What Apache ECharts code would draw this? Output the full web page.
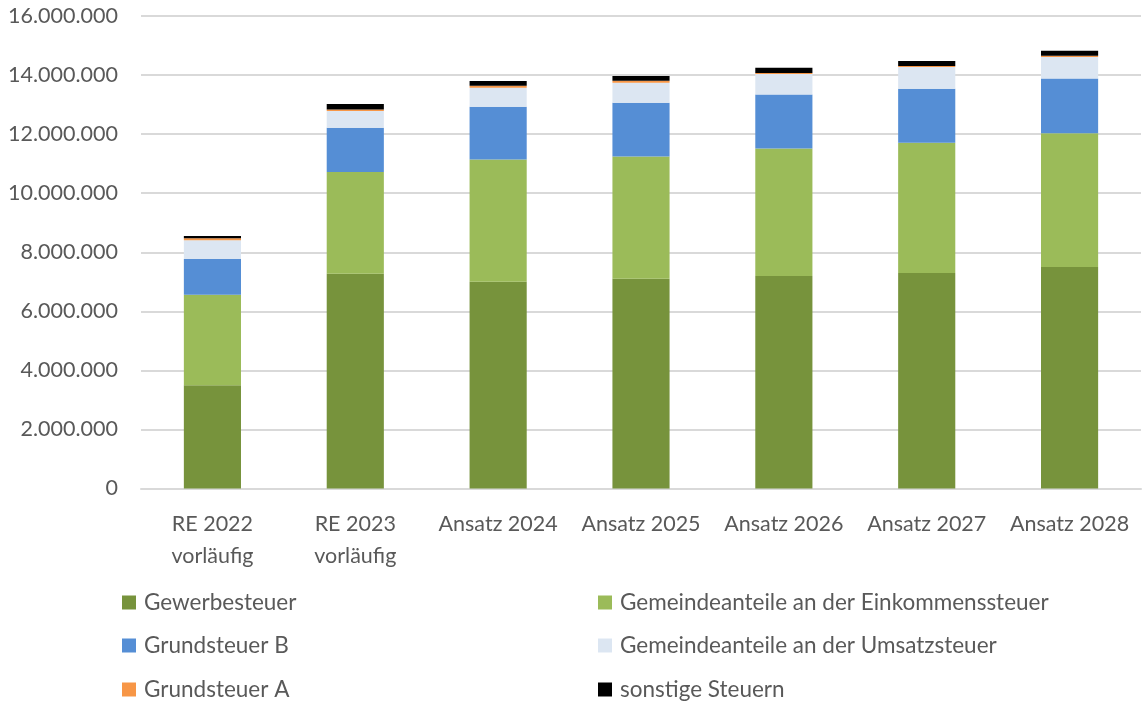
<!DOCTYPE html>
<html>
<head>
<meta charset="utf-8">
<script src="https://cdn.jsdelivr.net/npm/echarts@6/dist/echarts.min.js"></script>
<style>
  html, body { margin: 0; padding: 0; background: #fff; }
  #chart { width: 1144px; height: 702px; }
</style>
</head>
<body>
<div id="chart"></div>
<script>
// Kategorien (x-Achse)
const categories = ['RE 2022\nvorläufig', 'RE 2023\nvorläufig', 'Ansatz 2024', 'Ansatz 2025', 'Ansatz 2026', 'Ansatz 2027', 'Ansatz 2028'];

// Steuerarten, Werte in Euro
const gewerbesteuer = [3500000, 7270000, 7000000, 7100000, 7200000, 7300000, 7500000];
const einkommensteuer = [3060000, 3450000, 4140000, 4140000, 4310000, 4410000, 4530000];
const grundsteuerB = [1210000, 1500000, 1790000, 1820000, 1830000, 1830000, 1850000];
const umsatzsteuer = [640000, 560000, 640000, 680000, 700000, 730000, 730000];
const grundsteuerA = [60000, 50000, 70000, 70000, 30000, 40000, 40000];
const sonstige = [80000, 190000, 160000, 160000, 180000, 170000, 170000];

const yTicks = { min: 0, max: 16000000, interval: 2000000 };

const FONT = 'Lato, "Open Sans", sans-serif';
const TEXT = '#595959';
const FS = 21.5;

// Tausenderpunkte wie im Original
function fmt(v) {
  return String(v).replace(/\B(?=(\d{3})+(?!\d))/g, '.');
}

const seriesDefs = [
  { name: 'Gewerbesteuer', data: gewerbesteuer, color: '#77933C' },
  { name: 'Gemeindeanteile an der Einkommenssteuer', data: einkommensteuer, color: '#9BBB59' },
  { name: 'Grundsteuer B', data: grundsteuerB, color: '#558ED5' },
  { name: 'Gemeindeanteile an der Umsatzsteuer', data: umsatzsteuer, color: '#DCE6F2' },
  { name: 'Grundsteuer A', data: grundsteuerA, color: '#F79646' },
  { name: 'sonstige Steuern', data: sonstige, color: '#000000' }
];

// Legende: zwei Spalten, drei Zeilen
const legendCols = [122, 598];
const legendRows = [602, 645, 689];
const legends = seriesDefs.map((s, i) => ({
  left: legendCols[i % 2],
  top: legendRows[Math.floor(i / 2)] - 11,
  padding: 0,
  itemWidth: 14,
  itemHeight: 14,
  itemGap: 0,
  icon: 'rect',
  data: [s.name],
  textStyle: { fontFamily: FONT, fontSize: 22.5, color: TEXT, lineHeight: 22, padding: [0, 0, 0, 3] }
}));

const chart = echarts.init(document.getElementById('chart'));
chart.setOption({
  animation: false,
  grid: { left: 141, right: 3, top: 16, bottom: 213.5 },
  legend: legends,
  xAxis: {
    type: 'category',
    data: categories,
    axisTick: { show: false },
    axisLine: { lineStyle: { color: '#D9D9D9', width: 2 } },
    axisLabel: { fontFamily: FONT, fontSize: FS, color: TEXT, margin: 20, lineHeight: 32, interval: 0 }
  },
  yAxis: {
    type: 'value',
    min: yTicks.min,
    max: yTicks.max,
    interval: yTicks.interval,
    axisLine: { show: false },
    axisTick: { show: false },
    splitLine: { lineStyle: { color: '#D9D9D9', width: 2 } },
    axisLabel: { fontFamily: FONT, fontSize: FS, color: TEXT, margin: 23, formatter: fmt }
  },
  series: seriesDefs.map(s => ({
    name: s.name,
    type: 'bar',
    stack: 'steuern',
    barWidth: '40%',
    data: s.data,
    itemStyle: { color: s.color }
  }))
});
</script>
</body>
</html>
